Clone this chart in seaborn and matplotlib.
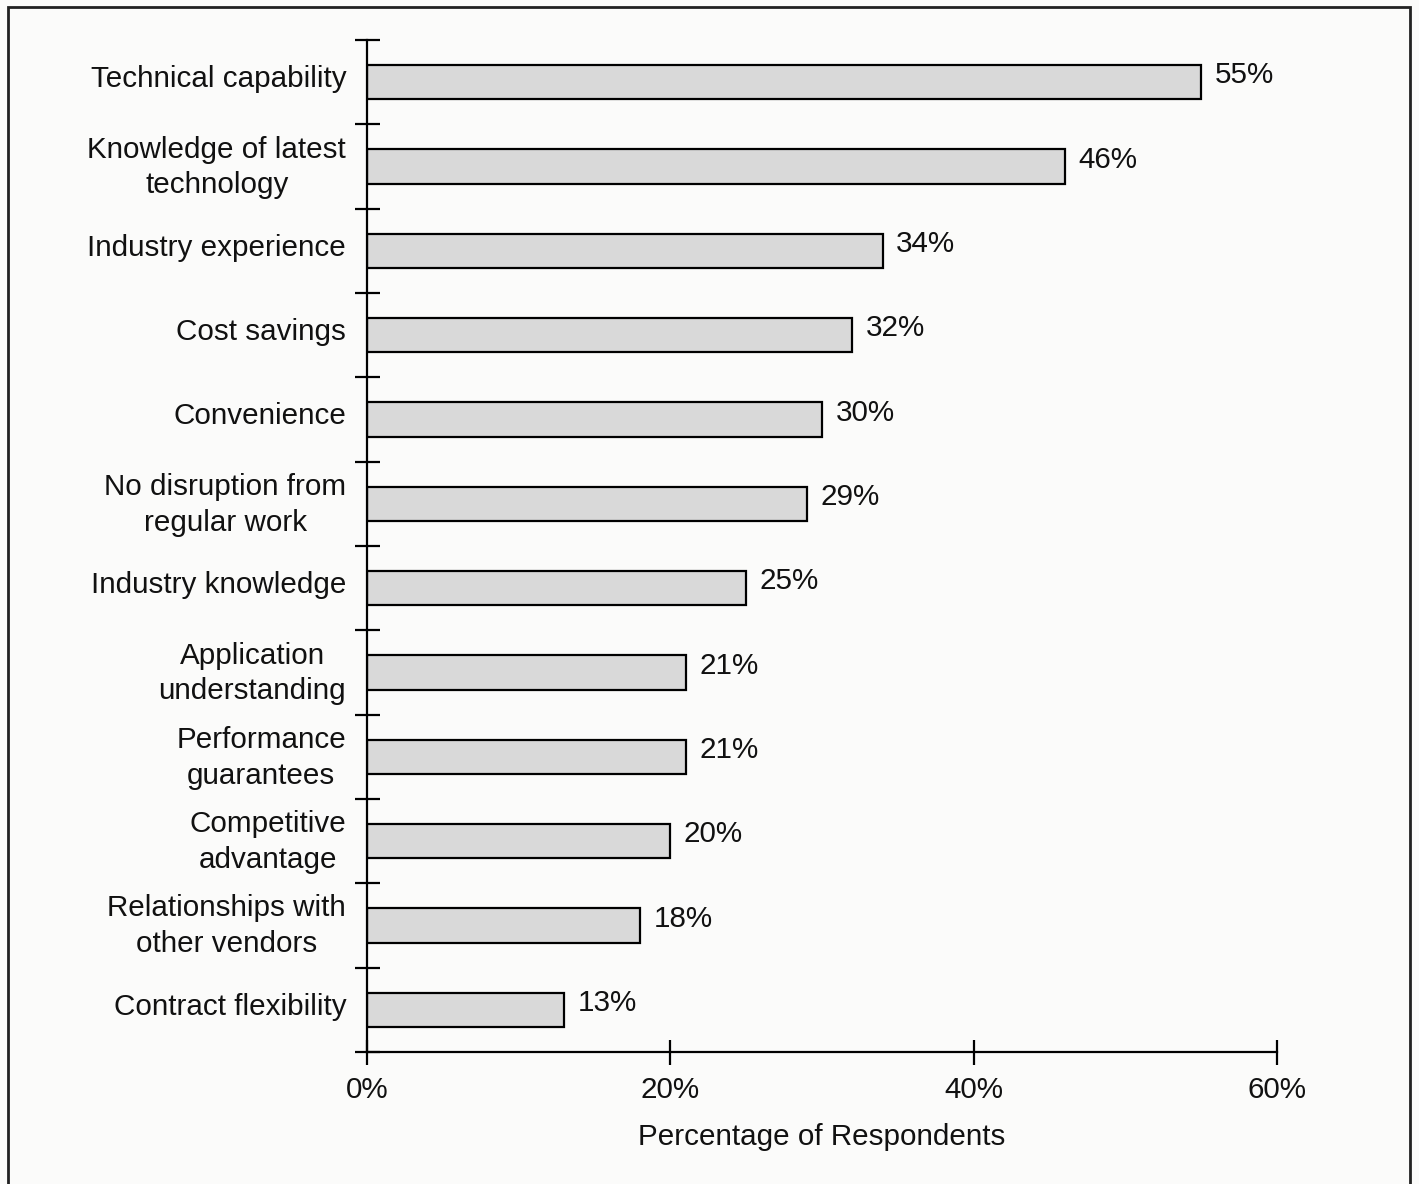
import matplotlib
matplotlib.use("Agg")
import matplotlib.pyplot as plt
import matplotlib.transforms as mtransforms
from matplotlib.patches import Rectangle
from matplotlib.ticker import FixedLocator, FuncFormatter
import seaborn as sns
import pandas as pd
import numpy as np

categories = [
    "Technical capability",
    "Knowledge of latest\ntechnology",
    "Industry experience",
    "Cost savings",
    "Convenience",
    "No disruption from\nregular work",
    "Industry knowledge",
    "Application\nunderstanding",
    "Performance\nguarantees",
    "Competitive\nadvantage",
    "Relationships with\nother vendors",
    "Contract flexibility",
]
values = [55, 46, 34, 32, 30, 29, 25, 21, 21, 20, 18, 13]
x_ticks = [0, 20, 40, 60]

sns.set_style("white")
plt.rcParams["font.family"] = ["Liberation Sans", "DejaVu Sans"]
plt.rcParams["text.color"] = "#111111"
plt.rcParams["axes.labelcolor"] = "#111111"
plt.rcParams["xtick.color"] = "#111111"
plt.rcParams["ytick.color"] = "#111111"

FS = 21.3

df = pd.DataFrame({"reason": categories, "pct": values})

fig = plt.figure(figsize=(14.19, 11.84), dpi=100)
fig.patch.set_facecolor("#fbfbfa")
ax = fig.add_axes([367 / 1419, 1 - 1052 / 1184, 910 / 1419, 1012 / 1184])
ax.set_facecolor("none")

sns.barplot(data=df, y="reason", x="pct", orient="h", ax=ax,
            color="#d9d9d9", edgecolor="black", linewidth=1.6,
            width=0.41, saturation=1)

n = len(categories)
ax.set_ylim(n - 0.5, -0.5)
ax.set_xlim(0, 60)

for i, v in enumerate(values):
    ax.text(v + 0.9, i - 0.08, f"{v}%", va="center", ha="left", fontsize=FS)

# category labels, sitting a little above the bar centres
ax.set_yticks(range(n))
ax.set_yticklabels(categories, fontsize=FS, multialignment="center", linespacing=1.35)
ax.tick_params(axis="y", which="major", left=False, length=0, pad=15)
shift = mtransforms.ScaledTranslation(0, 6 / 100, fig.dpi_scale_trans)
for lbl in ax.get_yticklabels():
    lbl.set_transform(lbl.get_transform() + shift)
ax.yaxis.set_minor_locator(FixedLocator(np.arange(-0.5, n, 1.0)))
ax.tick_params(axis="y", which="minor", left=True, direction="inout", length=18,
               width=1.6, color="black")

ax.set_xticks(x_ticks)
ax.xaxis.set_major_formatter(FuncFormatter(lambda v, p: f"{v:.0f}%"))
ax.tick_params(axis="x", which="major", bottom=True, direction="inout", length=18,
               width=1.6, color="black", labelsize=FS, pad=8)
ax.set_xlabel("Percentage of Respondents", fontsize=FS, labelpad=14)
ax.set_ylabel("")

for s in ["top", "right"]:
    ax.spines[s].set_visible(False)
for s in ["left", "bottom"]:
    ax.spines[s].set_color("black")
    ax.spines[s].set_linewidth(1.6)

fig.patches.append(Rectangle((8 / 1419, -0.02), (1410 - 8) / 1419, 1 - 7 / 1184 + 0.02,
                             transform=fig.transFigure, fill=False,
                             edgecolor="#222222", linewidth=2))

fig.savefig("out.png", dpi=100, facecolor=fig.get_facecolor())
